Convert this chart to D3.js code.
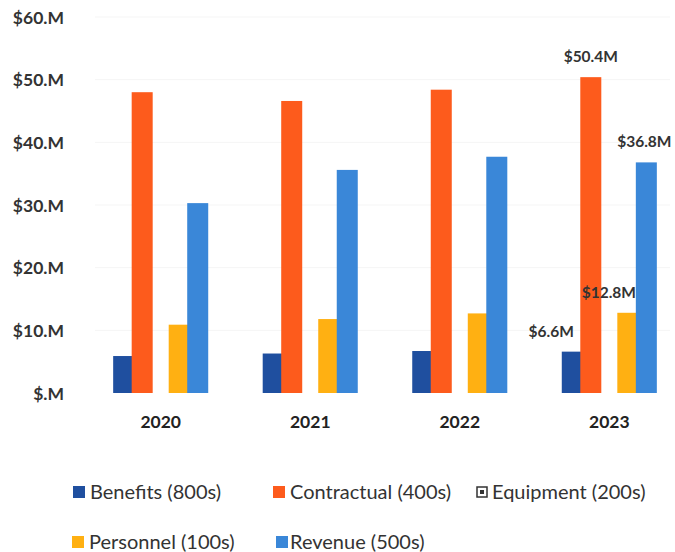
<!DOCTYPE html>
<html>
<head>
<meta charset="utf-8">
<script src="https://cdn.jsdelivr.net/npm/d3@7"></script>
<style>
  html, body { margin: 0; padding: 0; background: #fff; }
  svg { display: block; }
</style>
</head>
<body>
<svg id="chart" width="675" height="552"></svg>
<script>
// Annual spending by category, in millions of dollars
const years = ["2020", "2021", "2022", "2023"];
const seriesNames = ["Benefits (800s)", "Contractual (400s)", "Equipment (200s)", "Personnel (100s)", "Revenue (500s)"];
const benefits    = [5.9, 6.3, 6.7, 6.6];
const contractual = [48.0, 46.6, 48.4, 50.4];
const equipment   = [0, 0, 0, 0];
const personnel   = [10.9, 11.8, 12.7, 12.8];
const revenue     = [30.3, 35.6, 37.7, 36.8];
const yTicks = [0, 10, 20, 30, 40, 50, 60];
const colors = ["#1f4f9f", "#fd5b1c", "#3a3a3a", "#ffb012", "#3a87d8"];
// Values shown as labels for the latest year
const labelled = [
  { series: 0, year: "2023", dx: -21 },
  { series: 1, year: "2023", dx: 0 },
  { series: 3, year: "2023", dx: -19 },
  { series: 4, year: "2023", dx: -2 }
];

const seriesValues = [benefits, contractual, equipment, personnel, revenue];
const FONT = "Lato, 'Open Sans', sans-serif";

const svg = d3.select("#chart");
const baseY = 393, topY = 17;

const y = d3.scaleLinear().domain([0, 60]).range([baseY, topY]);
const x0 = d3.scaleBand().domain(years).range([86, 684]).paddingInner(0.381).paddingOuter(0.19);
const x1 = d3.scaleBand().domain(d3.range(seriesNames.length)).range([0, x0.bandwidth()]).padding(0);
// bars are a little wider than their slot, so neighbours overlap slightly
const barW = x1.bandwidth() * 1.135;

// faint horizontal gridlines
svg.append("g")
  .selectAll("line")
  .data(yTicks.slice(1))
  .join("line")
  .attr("x1", 95).attr("x2", 670)
  .attr("y1", d => y(d)).attr("y2", d => y(d))
  .attr("stroke", "#f5f5f5").attr("stroke-width", 1);

// y axis labels
const yAxis = d3.axisLeft(y).tickValues(yTicks).tickSize(0).tickPadding(0)
  .tickFormat(d => "$" + (d === 0 ? "" : d3.format(".0f")(d)) + ".M");
const gy = svg.append("g").attr("transform", "translate(64,0)").call(yAxis);
gy.select(".domain").remove();
gy.selectAll("text")
  .attr("font-family", FONT)
  .attr("font-weight", "bold").attr("font-size", 17.5).attr("fill", "#333")
  .attr("dy", "0.35em");

// x axis labels
const xAxis = d3.axisBottom(x0).tickSize(0).tickPadding(0);
const gx = svg.append("g").attr("transform", `translate(0,${baseY + 29})`).call(xAxis);
gx.select(".domain").remove();
gx.selectAll("text")
  .attr("font-family", FONT)
  .attr("dy", "0.35em")
  .attr("font-weight", "bold").attr("font-size", 17.5).attr("fill", "#222");

// bars
const groups = svg.append("g").selectAll("g")
  .data(years)
  .join("g")
  .attr("transform", d => `translate(${x0(d)},0)`);

groups.selectAll("rect")
  .data((yr, i) => seriesValues.map((vals, s) => ({ s, v: vals[i] })))
  .join("rect")
  .attr("x", d => x1(d.s) + x1.bandwidth() / 2 - barW / 2)
  .attr("width", barW)
  .attr("y", d => y(d.v))
  .attr("height", d => baseY - y(d.v))
  .attr("fill", d => colors[d.s]);

// data labels
svg.append("g").selectAll("text")
  .data(labelled)
  .join("text")
  .attr("x", d => x0(d.year) + x1(d.series) + x1.bandwidth() / 2 + d.dx)
  .attr("y", d => y(seriesValues[d.series][years.indexOf(d.year)]) - 15)
  .attr("text-anchor", "middle")
  .attr("font-family", FONT)
  .attr("font-weight", "bold").attr("font-size", 15.5).attr("fill", "#333")
  .text(d => "$" + d3.format(".1f")(seriesValues[d.series][years.indexOf(d.year)]) + "M");

// legend
const legendPos = [
  { x: 73, y: 492 }, { x: 273, y: 492 }, { x: 476, y: 492 },
  { x: 72, y: 542 }, { x: 276, y: 542 }
];
const legend = svg.append("g").selectAll("g")
  .data(seriesNames)
  .join("g")
  .attr("transform", (d, i) => `translate(${legendPos[i].x},${legendPos[i].y})`);

legend.append("rect")
  .attr("x", (d, i) => i === 2 ? 1 : 0)
  .attr("y", (d, i) => i === 2 ? -5 : -6)
  .attr("width", (d, i) => i === 2 ? 10 : 12)
  .attr("height", (d, i) => i === 2 ? 10 : 12)
  .attr("fill", (d, i) => i === 2 ? "#fff" : colors[i])
  .attr("stroke", (d, i) => i === 2 ? "#333" : "none")
  .attr("stroke-width", 1.5);
legend.filter((d, i) => i === 2).append("rect")
  .attr("x", 4).attr("y", -2).attr("width", 4).attr("height", 4)
  .attr("fill", "#333");

legend.append("text")
  .attr("x", (d, i) => i === 2 ? 16 : (i === 4 ? 14 : 17))
  .attr("y", 0).attr("dy", "0.35em")
  .attr("font-family", FONT)
  .attr("font-size", 20).attr("fill", "#333")
  .text(d => d);
</script>
</body>
</html>
